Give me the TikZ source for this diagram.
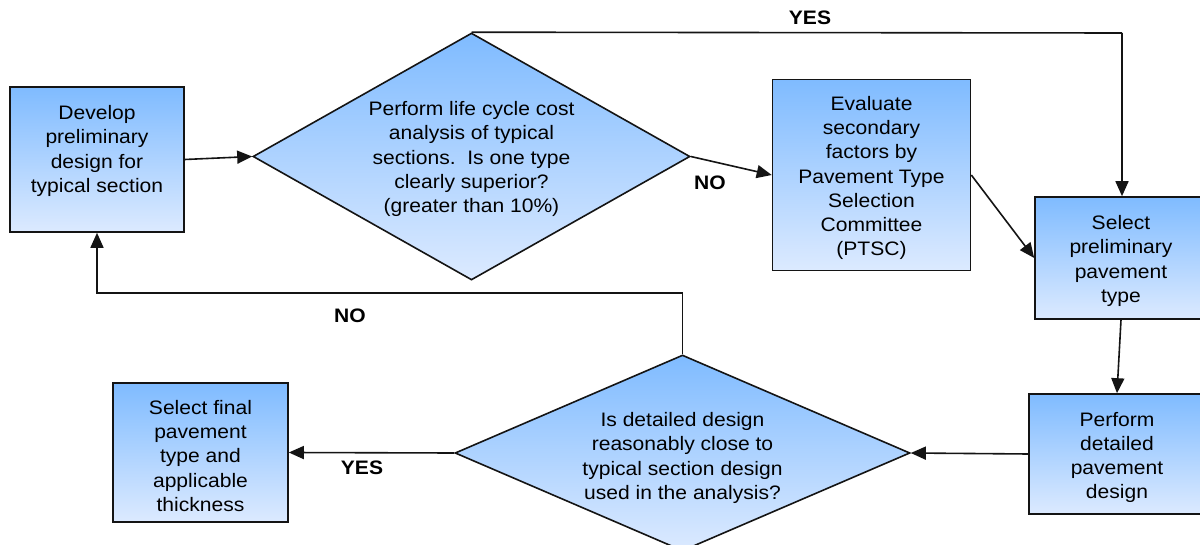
\documentclass[tikz,border=0pt]{standalone}
\usepackage{fontspec}
\setmainfont[FakeStretch=1.08]{Liberation Sans}
\usetikzlibrary{arrows.meta,shapes.geometric}
\definecolor{topblue}{RGB}{127,187,255}
\definecolor{botblue}{RGB}{220,234,255}
\definecolor{edge}{RGB}{20,20,20}
\begin{document}
\begin{tikzpicture}[x=1pt,y=-1pt,
  every node/.style={font=\fontsize{19.5}{24.3}\selectfont},
  box/.style={draw=edge,line width=1.6pt,top color=topblue,bottom color=botblue,
    inner sep=0pt},
  dia/.style={draw=edge,line width=1.6pt,top color=topblue,bottom color=botblue,
    shape=diamond,inner sep=0pt},
  txt/.style={align=center,inner sep=0pt},
  lab/.style={font=\fontsize{19.5}{24}\selectfont\bfseries,inner sep=0pt},
  arr/.style={line width=1.6pt,draw=edge,-{Triangle[length=15pt,width=13pt]}},
  ln/.style={line width=1.6pt,draw=edge}]
\clip (0,0) rectangle (1200,545);
\fill[white] (0,0) rectangle (1200,545);

\node[box,minimum width=174pt,minimum height=145pt] (A) at (97,159.5) {};
\node[txt] (tA) at (97,151) {Develop\\preliminary\\design for\\typical section};
\node[dia,minimum width=437pt,minimum height=247pt] (d1) at (471.5,156.5) {};
\node[txt] (t1) at (471.5,159) {Perform life cycle cost\\analysis of typical\\sections.\ \ Is one type\\clearly superior?\\(greater than 10\%)};
\node[box,minimum width=198pt,minimum height=191pt] (B) at (871.5,175) {};
\node[txt] (tB) at (871.5,178) {Evaluate\\secondary\\factors by\\Pavement Type\\Selection\\Committee\\(PTSC)};
\node[box,minimum width=174pt,minimum height=122pt] (C) at (1122,258) {};
\node[txt] (tC) at (1121,261) {Select\\preliminary\\pavement\\type};
\node[box,minimum width=176pt,minimum height=120pt] (D) at (1117,454) {};
\node[txt] (tD) at (1117,457.5) {Perform\\detailed\\pavement\\design};
\node[dia,minimum width=455pt,minimum height=196pt] (d2) at (682.5,453) {};
\node[txt] (t2) at (682.5,458) {Is detailed design\\reasonably close to\\typical section design\\used in the analysis?};
\node[box,minimum width=175pt,minimum height=139pt] (E) at (200.5,452.5) {};
\node[txt] (tE) at (200.5,456) {Select final\\pavement\\type and\\applicable\\thickness};

\coordinate (y1) at (1122,33);
\coordinate (n1) at (682.5,293);

\draw[arr] (A.east) -- (d1.west);
\draw[ln] (d1.north) -- (y1);
\draw[arr] (y1) -- (C.north);
\draw[arr] (d1.east) -- (B.west);
\draw[arr] (B.east) -- (C.west);
\draw[arr] ([xshift=-1pt]C.south) -- (D.north);
\draw[arr] (D.west) -- (d2.east);
\draw[arr] (d2.west) -- (E.east);
\draw[ln] (d2.north) -- (n1);
\draw[arr] (n1) -| (A.south);

\node[lab] (yes1) at (810,18) {YES};
\node[lab] (no1) at (710,183) {NO};
\node[lab] (no2) at (350,316) {NO};
\node[lab] (yes2) at (362,468) {YES};
\end{tikzpicture}
\end{document}
